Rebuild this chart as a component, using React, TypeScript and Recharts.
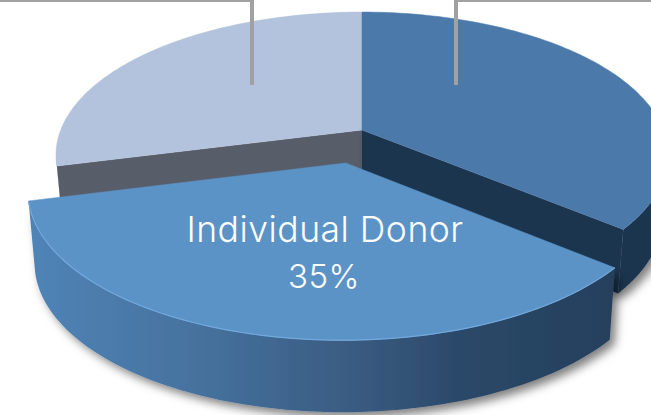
import React from "react";
import { PieChart, Pie } from "recharts";

// Values (only "Individual Donor" is legible; the others are cropped away).
const categories = ["Foundation", "Corporate", "Individual Donor"];
const shares = [29, 36, 35];
const topColors = ["#b3c3dd", "#4a79aa", "#5c93c7"];
const wallColors = ["#585d6a", "#1f3650", "url(#frontWall)"];
const explodedSlice = "Individual Donor";

const W = 651;
const H = 415;
const X0 = 362;
const Y0 = 130;
const A = 301.3;
const B = 138.6;
const P = 0.175;

const tableData = categories.map((name, i) => ({ name, value: shares[i], fill: topColors[i], wall: wallColors[i] }));

type Pt = [number, number];

function project(deg: number, r: number, exploded: boolean, lower: boolean): Pt {
  const rad = (deg * Math.PI) / 180;
  const c = Math.cos(rad);
  const s = -Math.sin(rad);
  const u = exploded ? 0.995 * r * c - 0.052 : r * c;
  const v = exploded ? 0.97 * r * s + 0.2285 : r * s;
  const w = 1 - P * v;
  let x = X0 + (A * u) / w;
  let y = Y0 + (B * v) / w;
  if (lower) {
    x = X0 + (x - X0) * 0.98;
    y += exploded ? 72 : 64;
  }
  return [x, y];
}

const toPath = (pts: Pt[], close = true) =>
  pts.map((p, i) => `${i ? "L" : "M"}${p[0].toFixed(2)} ${p[1].toFixed(2)}`).join(" ") + (close ? " Z" : "");

function rim(start: number, end: number, exploded: boolean, lower: boolean): Pt[] {
  const n = 90;
  const pts: Pt[] = [];
  for (let i = 0; i <= n; i++) pts.push(project(start + ((end - start) * i) / n, 1, exploded, lower));
  return pts;
}

function Slice(props: any) {
  const { startAngle, endAngle, fill, payload, name } = props;
  const label = name ?? payload?.name;
  const wall = props.wall ?? payload?.wall;
  const exploded = label === explodedSlice;
  const top = rim(startAngle, endAngle, exploded, false);
  const bottom = rim(startAngle, endAngle, exploded, true);
  const apex = project(0, 0, exploded, false);
  const apexLow = project(0, 0, exploded, true);
  // Only the part of the rim facing the viewer gets a wall (the silhouette sits 10 degrees below level).
  const crossesRight = startAngle > -10 && endAngle < -10;
  const crossesLeft = startAngle > 190 && endAngle < 190;
  const frontStart = crossesRight ? -10 : startAngle;
  const frontEnd = crossesLeft ? 190 : endAngle;
  const frontTop = rim(frontStart, frontEnd, exploded, false);
  const frontBottom = rim(frontStart, frontEnd, exploded, true);
  const rimWall = [...frontTop, ...[...frontBottom].reverse()];
  const startWall = [apex, top[0], bottom[0], apexLow];
  const endWall = [apex, top[top.length - 1], bottom[bottom.length - 1], apexLow];
  return (
    <g>
      <defs>
        <linearGradient id="frontWall" gradientUnits="userSpaceOnUse" x1="28" y1="0" x2="613" y2="0">
          <stop offset="0" stopColor="#5084b7" />
          <stop offset="0.3" stopColor="#45719d" />
          <stop offset="0.55" stopColor="#3a5c82" />
          <stop offset="0.75" stopColor="#2a4868" />
          <stop offset="1" stopColor="#25405c" />
        </linearGradient>
        <filter id="softShadow" filterUnits="userSpaceOnUse" x="0" y="0" width={W} height={H}>
          <feDropShadow dx="5" dy="5" stdDeviation="5" floodColor="#000" floodOpacity="0.5" />
        </filter>
      </defs>
      <g filter={label === categories[0] ? undefined : "url(#softShadow)"}>
        <path d={toPath(rimWall)} fill={wall} />
        {crossesLeft && <path d={toPath(startWall)} fill={wall} />}
        {crossesRight && <path d={toPath(endWall)} fill={wall} />}
      </g>
      <path d={toPath([apex, ...top])} fill={fill} stroke={fill} strokeWidth={0.5} />
      {exploded && <path d={toPath(top, false)} fill="none" stroke="#72a8dc" strokeWidth={1.2} />}
    </g>
  );
}

function SliceLabel(props: any) {
  if (props.name !== explodedSlice) return null;
  return (
    <g>
      <text fill="#ffffff" textAnchor="middle" fontFamily="Inter, sans-serif" fontWeight={350} fontSize={35.5} letterSpacing={0.5}>
        <tspan x={325} y={242}>{props.name}</tspan>
        <tspan x={324} y={288} fontSize={33}>{`${props.value}%`}</tspan>
      </text>
      <g stroke="#a1a1a4" strokeWidth={4} fill="none">
        <path d="M0 0 H252 V85" />
        <path d="M651 0 H456 V85" />
      </g>
    </g>
  );
}

export default function App() {
  return (
    <div style={{ position: "absolute", left: 0, top: 0, width: W, height: H, overflow: "hidden", background: "#fff" }}>
      <PieChart width={W} height={H} margin={{ top: 0, right: 0, bottom: 0, left: 0 }}>
        <Pie
          data={tableData}
          dataKey="value"
          nameKey="name"
          cx={X0}
          cy={Y0}
          outerRadius={A}
          startAngle={194.4}
          endAngle={-165.6}
          stroke="none"
          shape={Slice}
          label={SliceLabel}
          labelLine={false}
          isAnimationActive={false}
        />
      </PieChart>
    </div>
  );
}
